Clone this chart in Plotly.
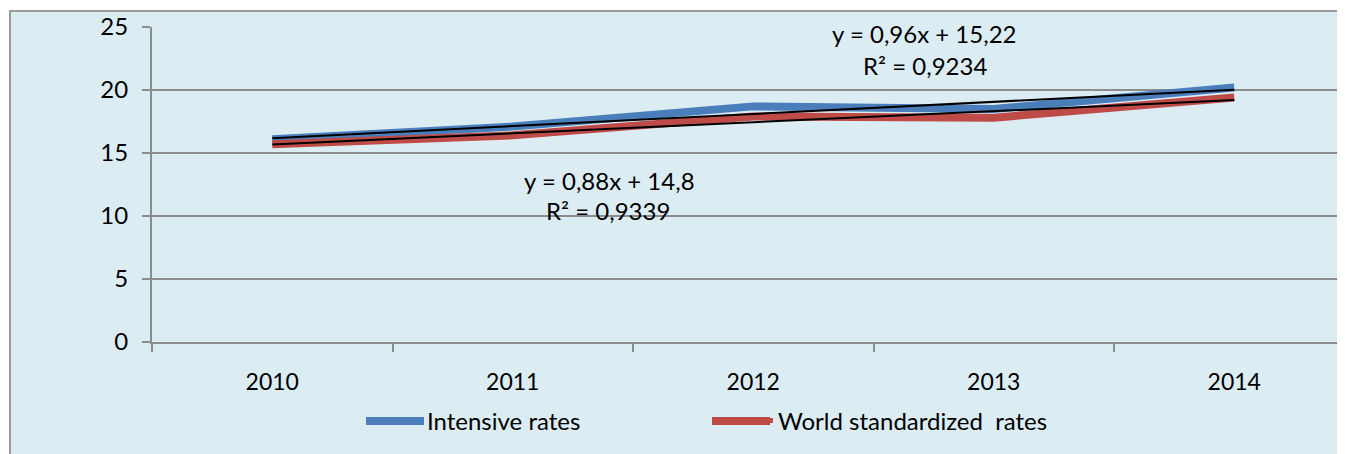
import plotly.graph_objects as go

years = ["2010", "2011", "2012", "2013", "2014"]
intensive_rates = [16.1, 17.1, 18.7, 18.5, 20.2]
world_std_rates = [15.7, 16.4, 17.9, 17.8, 19.4]

# Linear trendline coefficients as printed on the chart (x = 1..5)
trend_intensive = (0.96, 15.22)
trend_world = (0.88, 14.8)
eq_intensive = ["y = 0,96x + 15,22", "R² = 0,9234"]
eq_world = ["y = 0,88x + 14,8", "R² = 0,9339"]

y_ticks = [0, 5, 10, 15, 20, 25]

BLUE = "#4A7EBB"
RED = "#BE4B48"
GRID = "#8C8C8C"
BG = "#DBEDF3"
FONT = "Lato"
FS = 24

xs = list(range(len(years)))
trend_i = [trend_intensive[0] * (i + 1) + trend_intensive[1] for i in xs]
trend_w = [trend_world[0] * (i + 1) + trend_world[1] for i in xs]

OFF = 8  # page body margin
W, H = 1345 - OFF, 454 - OFF
L, T = 152 - OFF, 27 - OFF
AXIS_Y = 342 - OFF
B = H - AXIS_Y
plot_w = W - L
plot_h = AXIS_Y - T
cat_px = 240.5

def px2x(px):
    return (px - OFF - L) / cat_px - 0.5

def py2y(py):
    return (AXIS_Y - (py - OFF)) / plot_h * 25

def px2paper(px):
    return (px - OFF - L) / plot_w

def py2paper(py):
    return (AXIS_Y - (py - OFF)) / plot_h

fig = go.Figure()
fig.add_trace(go.Scatter(x=xs, y=intensive_rates, mode="lines", name="Intensive rates",
                         line=dict(color=BLUE, width=8)))
fig.add_trace(go.Scatter(x=xs, y=world_std_rates, mode="lines",
                         name="World standardized\u00a0 rates",
                         line=dict(color=RED, width=8)))
fig.add_trace(go.Scatter(x=xs, y=trend_i, mode="lines", showlegend=False,
                         line=dict(color="black", width=2), hoverinfo="skip"))
fig.add_trace(go.Scatter(x=xs, y=trend_w, mode="lines", showlegend=False,
                         line=dict(color="black", width=2), hoverinfo="skip"))

annos = [
    (eq_intensive[0], 924, 33),
    (eq_intensive[1], 925, 65),
    (eq_world[0], 609, 180),
    (eq_world[1], 608, 210),
]
for txt, px, py in annos:
    fig.add_annotation(x=px2x(px), y=py2y(py), text=txt, showarrow=False,
                       xanchor="center", yanchor="middle",
                       font=dict(family=FONT, size=FS, color="black"))

# outer chart border / background
fig.add_shape(type="rect", xref="paper", yref="paper",
              x0=px2paper(10), x1=1.02,
              y0=py2paper(470), y1=py2paper(11),
              fillcolor=BG, line=dict(color="#9A9A9A", width=2), layer="below")

# legend keys drawn longer and thicker than the built-in symbols
LEG_Y = 421
legend_left_text = 427
entry_gap = 346
for col, x0 in [(BLUE, 366), (RED, 366 + entry_gap)]:
    fig.add_shape(type="line", xref="paper", yref="paper",
                  x0=px2paper(x0), x1=px2paper(x0 + 58),
                  y0=py2paper(LEG_Y), y1=py2paper(LEG_Y),
                  line=dict(color=col, width=8), layer="above")

fig.update_layout(
    width=W, height=H,
    margin=dict(l=L, r=0, t=T, b=B),
    paper_bgcolor="white",
    plot_bgcolor="rgba(0,0,0,0)",
    font=dict(family=FONT, size=FS, color="black"),
    showlegend=True,
    legend=dict(orientation="h", x=px2paper(legend_left_text - 40), xanchor="left",
                y=py2paper(LEG_Y), yanchor="middle",
                entrywidth=entry_gap - 40, entrywidthmode="pixels",
                bgcolor="rgba(0,0,0,0)", font=dict(family=FONT, size=FS),
                itemsizing="constant"),
    xaxis=dict(range=[-0.5, -0.5 + plot_w / cat_px], tickvals=xs, ticktext=years,
               ticks="", showgrid=False, zeroline=False,
               showline=True, linecolor=GRID, linewidth=2,
               tickfont=dict(size=23),
               ticklabelstandoff=18,
               minor=dict(tickvals=[i - 0.5 for i in xs], ticks="outside",
                          ticklen=8, tickcolor=GRID, tickwidth=2, showgrid=False)),
    yaxis=dict(range=[0, 25], tickvals=y_ticks, showgrid=True, gridcolor=GRID,
               gridwidth=2, zeroline=False, showline=True, linecolor=GRID,
               linewidth=2, ticks="outside", ticklen=8, tickcolor=GRID, tickwidth=2,
               ticklabelstandoff=9),
)

fig.write_html("out.html")
